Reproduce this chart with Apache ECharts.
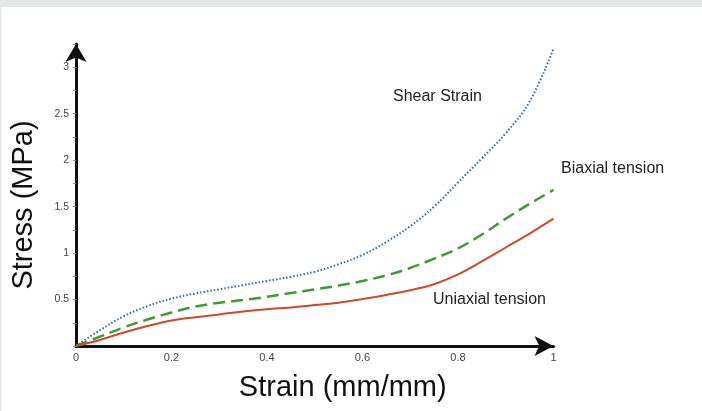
<!DOCTYPE html>
<html>
<head>
<meta charset="utf-8">
<script src="https://cdn.jsdelivr.net/npm/echarts@6/dist/echarts.min.js"></script>
<style>
html,body{margin:0;padding:0;background:#fff;}
#chart{width:702px;height:411px;}
</style>
</head>
<body>
<div id="chart"></div>
<script>
// Strain values (x, mm/mm)
var strain = [0, 0.05, 0.1, 0.15, 0.2, 0.25, 0.3, 0.35, 0.4, 0.45, 0.5, 0.55, 0.6, 0.65, 0.7, 0.75, 0.8, 0.85, 0.9, 0.95, 1.0];
// Stress values (MPa)
var shearStrain     = [0, 0.17, 0.32, 0.43, 0.51, 0.565, 0.61, 0.655, 0.70, 0.745, 0.80, 0.88, 0.98, 1.12, 1.29, 1.50, 1.76, 2.02, 2.29, 2.63, 3.2];
var biaxialTension  = [0, 0.10, 0.20, 0.285, 0.36, 0.425, 0.465, 0.495, 0.53, 0.57, 0.61, 0.65, 0.70, 0.76, 0.84, 0.94, 1.05, 1.2, 1.37, 1.53, 1.68];
var uniaxialTension = [0, 0.065, 0.145, 0.215, 0.275, 0.31, 0.34, 0.37, 0.395, 0.415, 0.44, 0.465, 0.505, 0.55, 0.60, 0.665, 0.77, 0.91, 1.06, 1.21, 1.37];
var xTicks = [0, 0.2, 0.4, 0.6, 0.8, 1];
var yTicks = [0.5, 1, 1.5, 2, 2.5, 3];
var seriesNames = ['Shear Strain', 'Biaxial tension', 'Uniaxial tension'];

function pairs(ys){ return strain.map(function(x,i){ return [x, ys[i]]; }); }

var chart = echarts.init(document.getElementById('chart'), null, {renderer:'canvas'});
var font = 'Liberation Sans, Arial, Helvetica, sans-serif';
chart.setOption({
  animation: false,
  backgroundColor: '#ffffff',
  grid: {left: 76, right: 148.5, top: 44, bottom: 65, containLabel: false},
  xAxis: {
    type: 'value', min: 0, max: 1, interval: 0.2,
    name: 'Strain (mm/mm)', nameLocation: 'middle', nameGap: 27,
    nameTextStyle: {fontFamily: font, fontSize: 29, color: '#111', padding: [0, 0, 0, 56]},
    axisLine: {show: true, onZero: true, lineStyle: {color: '#111', width: 3},
      symbol: ['none', 'arrow'], symbolSize: [15, 19], symbolOffset: [0, 0]},
    axisTick: {show: false},
    splitLine: {show: false},
    axisLabel: {show: true, fontFamily: font, fontSize: 11, color: '#444', margin: 6,
      customValues: xTicks,
      formatter: function(v){ return String(v); }}
  },
  yAxis: {
    type: 'value', min: 0, max: 3.25, interval: 0.25,
    name: 'Stress (MPa)', nameLocation: 'middle', nameGap: 38,
    nameTextStyle: {fontFamily: font, fontSize: 29, color: '#111', padding: [0, 20, 0, 0]},
    axisLine: {show: true, lineStyle: {color: '#111', width: 3},
      symbol: ['none', 'arrow'], symbolSize: [16, 18], symbolOffset: [0, 0]},
    axisTick: {show: true, inside: false, length: 3, lineStyle: {color: '#888', width: 1}},
    splitLine: {show: false},
    axisLabel: {show: true, fontFamily: font, fontSize: 10.5, color: '#444', margin: 7,
      customValues: yTicks,
      formatter: function(v){ return String(v); }}
  },
  series: [
    {name: seriesNames[0], type: 'line', smooth: 0.4, showSymbol: false, data: pairs(shearStrain),
      lineStyle: {color: '#2f6a9c', width: 2, type: [1.5, 2]}, z: 3},
    {name: seriesNames[1], type: 'line', smooth: 0.4, showSymbol: false, data: pairs(biaxialTension),
      lineStyle: {color: '#3f9a36', width: 2.5, type: [12, 6]}, z: 3},
    {name: seriesNames[2], type: 'line', smooth: 0.4, showSymbol: false, data: pairs(uniaxialTension),
      lineStyle: {color: '#cf4a2a', width: 2}, z: 3}
  ],
  graphic: [
    {type: 'rect', shape: {x: 0, y: 0, width: 702, height: 7}, style: {fill: '#e6e7e8'}, silent: true},
    {type: 'rect', shape: {x: 0, y: 0, width: 1.5, height: 411}, style: {fill: '#e6e7e8'}, silent: true},
    {type: 'text', x: 393, y: 97, style: {text: seriesNames[0], fontFamily: font, fontSize: 16, fill: '#222', verticalAlign: 'middle'}},
    {type: 'text', x: 561, y: 169, style: {text: seriesNames[1], fontFamily: font, fontSize: 16, fill: '#222', verticalAlign: 'middle'}},
    {type: 'text', x: 433, y: 300, style: {text: seriesNames[2], fontFamily: font, fontSize: 16, fill: '#222', verticalAlign: 'middle'}}
  ]
});
</script>
</body>
</html>
